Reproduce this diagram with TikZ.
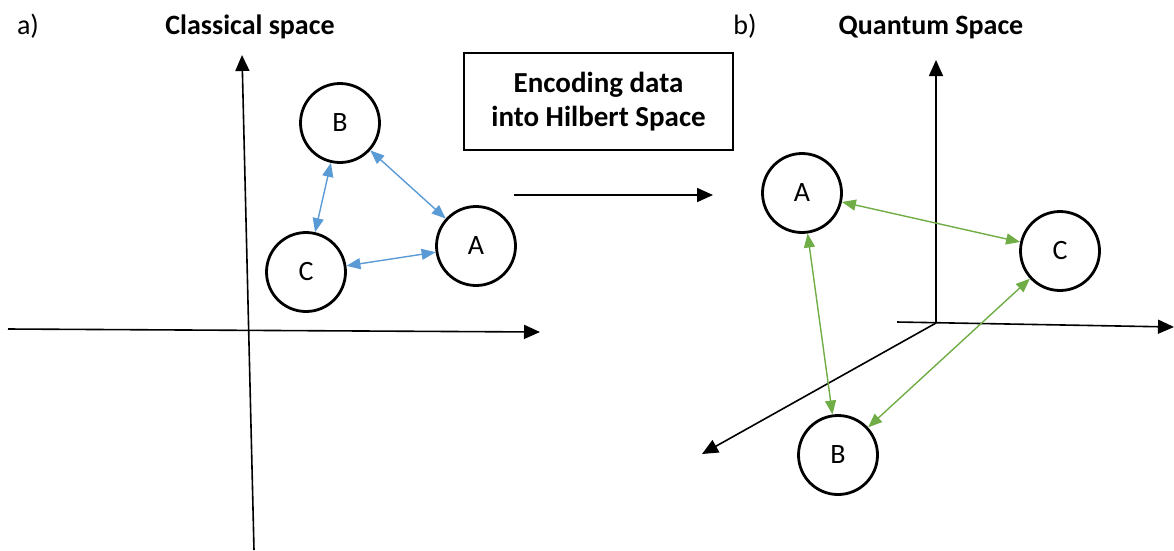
\documentclass[tikz,border=0pt]{standalone}
\usepackage{fontspec}
\setmainfont{Carlito}
\usetikzlibrary{arrows.meta}
\definecolor{linkblue}{HTML}{5B9BD5}
\definecolor{linkgreen}{HTML}{70AD47}
\newcommand{\balltext}[1]{\raisebox{-3pt}{#1}}
\begin{document}
\begin{tikzpicture}[x=1pt,y=-1pt,
  axis/.style={line width=1.6pt, draw=black, -{Triangle[length=16pt,width=14pt]}},
  ball/.style={circle, draw=black, line width=2.8pt, fill=white, minimum size=79pt,
    inner sep=0pt, font=\fontsize{28}{30}\selectfont},
  title/.style={anchor=base, font=\fontsize{28}{30}\selectfont\bfseries},
  tag/.style={anchor=base, font=\fontsize{28}{30}\selectfont},
  link/.style={line width=1.4pt,
    {Triangle[length=14pt,width=11pt]}-{Triangle[length=14pt,width=11pt]}},
]
\useasboundingbox (0,0) rectangle (1174,550);

% headings
\node[tag]   (ta) at (28,34)  {a)};
\node[title] (tc) at (250,34) {Classical space};
\node[tag]   (tb) at (745,34) {b)};
\node[title] (tq) at (931,34) {Quantum Space};

% classical axes
\coordinate (cyb) at (254,550);
\coordinate (cyt) at (242,55);
\coordinate (cxl) at (8,329);
\coordinate (cxr) at (540,332);
\draw[axis] (cyb) -- (cyt);
\draw[axis] (cxl) -- (cxr);

% classical points
\node[ball] (cB) at (340,123) {\balltext{B}};
\node[ball] (cC) at (306,272) {\balltext{C}};
\node[ball] (cA) at (476,246) {\balltext{A}};
\draw[link, linkblue] (cB) -- (cA);
\draw[link, linkblue] (cB) -- (cC);
\draw[link, linkblue] (cC) -- (cA);

% encoding step
\node[draw=black, line width=2.8pt, minimum width=269pt, minimum height=97pt,
  align=center, font=\fontsize{29}{34}\selectfont\bfseries]
  (enc) at (598.5,101.5) {Encoding data\\into Hilbert Space};
\coordinate (ms) at (514,195);
\coordinate (me) at (713,195);
\draw[line width=1.6pt, -{Triangle[length=16pt,width=14pt]}] (ms) -- (me);

% quantum axes
\coordinate (qo) at (936,323);
\coordinate (qyt) at (936,60);
\coordinate (qxl) at (897,322);
\coordinate (qxr) at (1174,327);
\coordinate (qz) at (702,454);
\draw[axis] (qo) -- (qyt);
\draw[axis] (qxl) -- (qxr);
\draw[axis] (qo) -- (qz);

% quantum points
\node[ball] (qA) at (802,193) {\balltext{A}};
\node[ball] (qC) at (1060,251) {\balltext{C}};
\node[ball] (qB) at (838,455) {\balltext{B}};
\draw[link, linkgreen] (qA) -- (qC);
\draw[link, linkgreen] (qA) -- (qB);
\draw[link, linkgreen] (qC) -- (qB);
\end{tikzpicture}
\end{document}
